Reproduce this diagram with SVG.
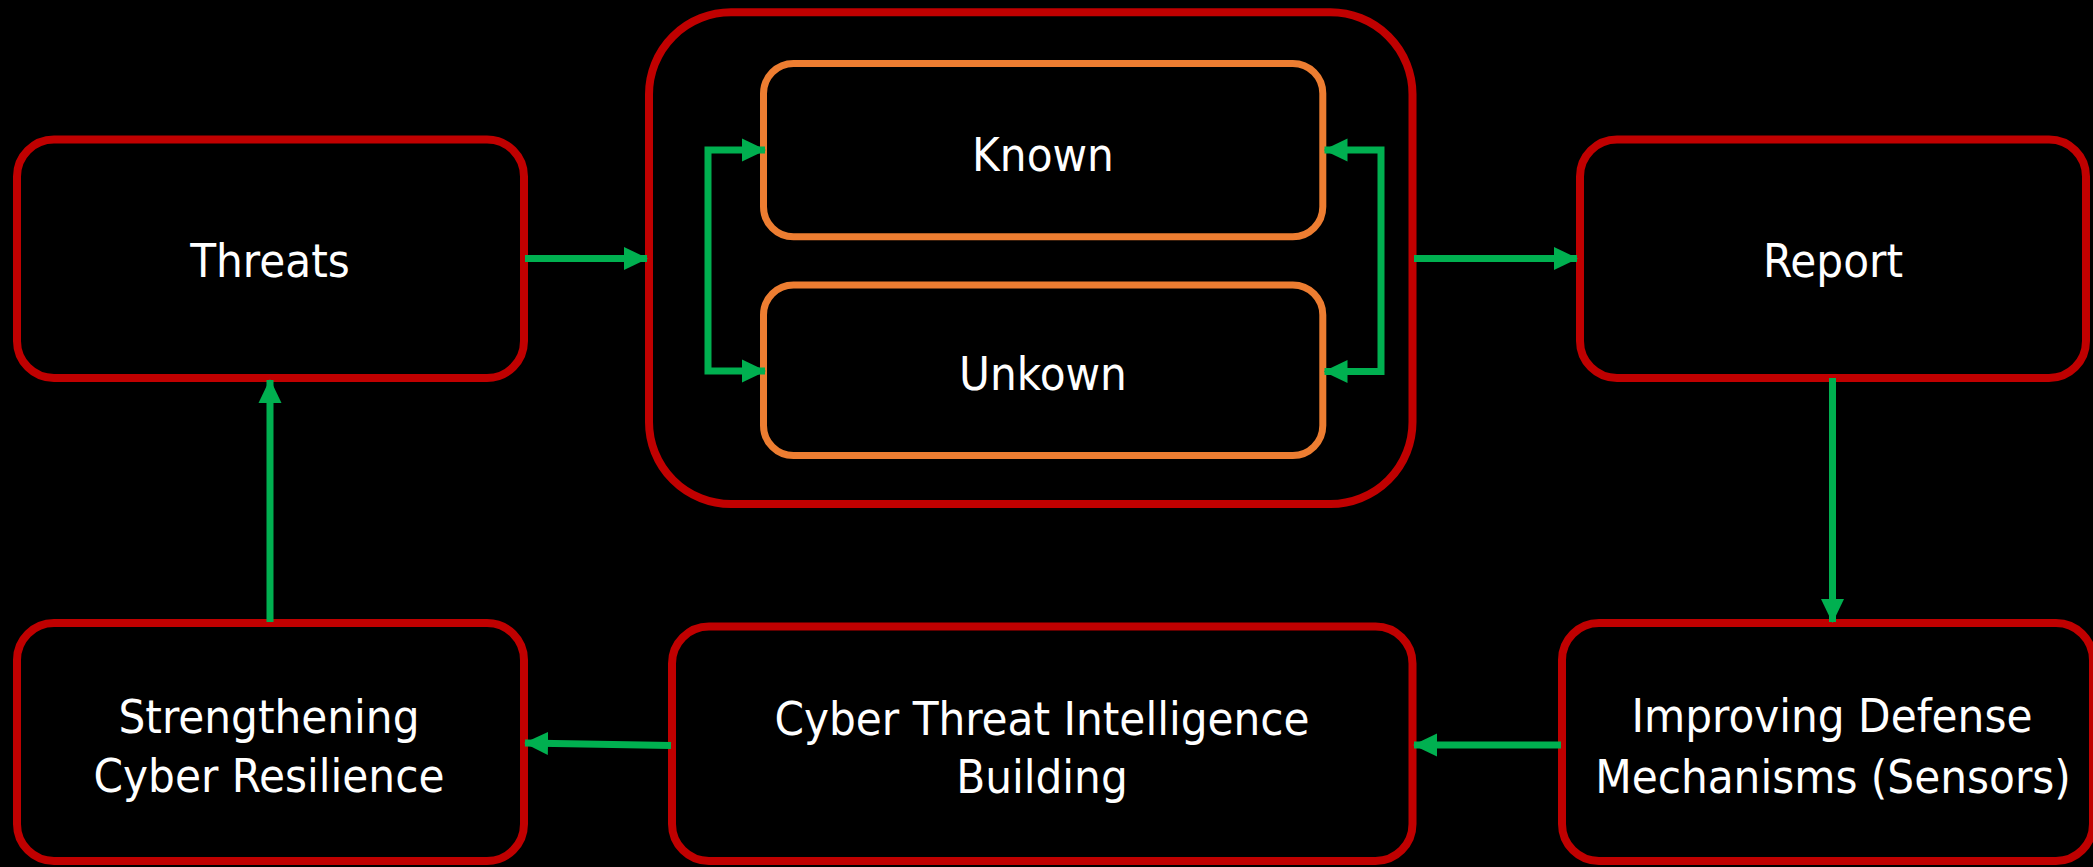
<svg xmlns="http://www.w3.org/2000/svg" width="2093" height="867" viewBox="0 0 2093 867">
<style>
.box{fill:#000;stroke:#C00000;stroke-width:8}
.inner{fill:#000;stroke:#ED7D31;stroke-width:7}
.lbl{font-family:"DejaVu Sans Condensed","DejaVu Sans",sans-serif;font-size:47px;fill:#fff;text-anchor:middle}
.con{fill:none;stroke:#00B050;stroke-width:7}
</style>
<defs>
<marker id="ah" markerUnits="userSpaceOnUse" markerWidth="24" markerHeight="24" refX="23" refY="11.5" orient="auto-start-reverse" viewBox="0 0 24 23">
<path d="M0,0 L24,11.5 L0,23 z" fill="#00B050"/>
</marker>
</defs>
<rect width="2093" height="867" fill="#000"/>
<g id="threats">
<rect class="box" x="17" y="139.5" width="507" height="238.5" rx="37" ry="37"/>
<text class="lbl" x="270" y="277">Threats</text>
</g>
<g id="container">
<rect class="box" x="649" y="12.3" width="763.5" height="491.7" rx="82" ry="82"/>
</g>
<g id="known">
<rect class="inner" x="763.5" y="63.5" width="559.3" height="173.2" rx="30" ry="30"/>
<text class="lbl" x="1043" y="171">Known</text>
</g>
<g id="unknown">
<rect class="inner" x="763.5" y="285" width="559.3" height="170.5" rx="30" ry="30"/>
<text class="lbl" x="1043" y="390">Unkown</text>
</g>
<g id="report">
<rect class="box" x="1580" y="139.5" width="506" height="238.5" rx="37" ry="37"/>
<text class="lbl" x="1833" y="277">Report</text>
</g>
<g id="improving">
<rect class="box" x="1562" y="623" width="531" height="238" rx="37" ry="37"/>
<text class="lbl" x="1832" y="732">Improving Defense</text>
<text class="lbl" x="1833" y="793">Mechanisms (Sensors)</text>
</g>
<g id="cti">
<rect class="box" x="672" y="626.5" width="740.5" height="234.5" rx="37" ry="37"/>
<text class="lbl" x="1042" y="735">Cyber Threat Intelligence</text>
<text class="lbl" x="1042" y="793">Building</text>
</g>
<g id="strengthening">
<rect class="box" x="17" y="623" width="507" height="238" rx="37" ry="37"/>
<text class="lbl" x="269" y="733">Strengthening</text>
<text class="lbl" x="269" y="792">Cyber Resilience</text>
</g>
<g id="connectors">
<path class="con" d="M525,258.5 H647" marker-end="url(#ah)"/>
<path class="con" d="M1414,258.5 H1577" marker-end="url(#ah)"/>
<path class="con" d="M765,150 H708 V371 H765" marker-start="url(#ah)" marker-end="url(#ah)"/>
<path class="con" d="M1324.5,150 H1381 V371.5 H1324.5" marker-start="url(#ah)" marker-end="url(#ah)"/>
<path class="con" d="M1832.5,378 V622" marker-end="url(#ah)"/>
<path class="con" d="M1561,745 H1414" marker-end="url(#ah)"/>
<path class="con" d="M671,745.5 L525,743" marker-end="url(#ah)"/>
<path class="con" d="M270,622 V380" marker-end="url(#ah)"/>
</g>
</svg>
